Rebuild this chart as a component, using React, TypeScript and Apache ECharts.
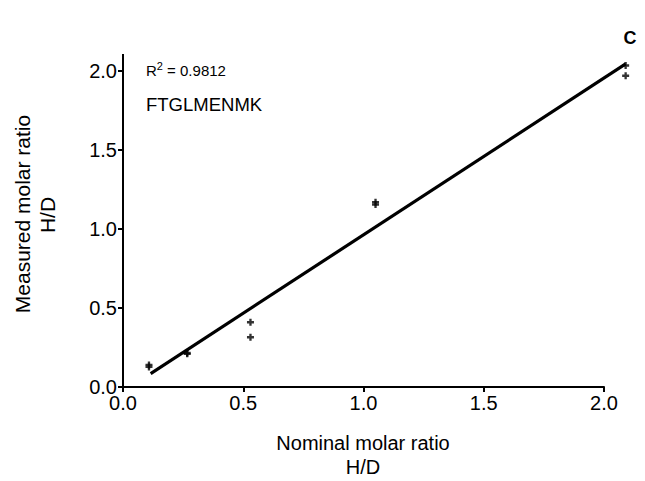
import React, { useEffect, useRef } from "react";
import * as echarts from "echarts";

const pointX = [0.108, 0.108, 0.267, 0.267, 0.53, 0.53, 1.05, 1.05, 2.09, 2.09];
const pointY = [0.127, 0.14, 0.215, 0.21, 0.41, 0.315, 1.155, 1.17, 2.035, 1.97];
const fitX = [0.115, 2.09];
const fitY = [0.085, 2.045];
const xTicks = [0, 0.5, 1.0, 1.5, 2.0];
const yTicks = [0, 0.5, 1.0, 1.5, 2.0];
const xTitle = ["Nominal molar ratio", "H/D"];
const yTitle = ["Measured molar ratio", "H/D"];
const r2Text = "0.9812";
const peptide = "FTGLMENMK";
const panel = "C";

const FONT = "'Liberation Sans', Arial, sans-serif";

export default function App() {
  const ref = useRef<HTMLDivElement>(null);
  useEffect(() => {
    if (!ref.current) return;
    const chart = echarts.init(ref.current, null, { renderer: "svg" });
    const axisCommon = {
      type: "value" as const,
      interval: 0.5,
      axisLine: { show: true, lineStyle: { color: "#000", width: 2 } },
      axisTick: { show: true, inside: false, length: 5, lineStyle: { color: "#000", width: 2 } },
      splitLine: { show: false },
      axisLabel: {
        color: "#000",
        fontSize: 20,
        fontFamily: FONT,
        formatter: (v: number) => v.toFixed(1),
      },
    };
    chart.setOption({
      animation: false,
      backgroundColor: "#fff",
      grid: { left: 123, right: 41, top: 71, bottom: 94, containLabel: false },
      xAxis: {
        ...axisCommon,
        min: xTicks[0],
        max: xTicks[xTicks.length - 1],
        axisLabel: { ...axisCommon.axisLabel, margin: 6 },
      },
      yAxis: {
        ...axisCommon,
        min: yTicks[0],
        max: yTicks[yTicks.length - 1],
        axisLabel: { ...axisCommon.axisLabel, margin: 6 },
      },
      series: [
        {
          type: "custom",
          data: [[fitX[0], fitY[0], fitX[1], fitY[1]]],
          clip: false,
          z: 2,
          renderItem: (params: any, api: any) => {
            const p1 = api.coord([api.value(0), api.value(1)]);
            const p2 = api.coord([api.value(2), api.value(3)]);
            return {
              type: "line",
              shape: { x1: p1[0], y1: p1[1], x2: p2[0], y2: p2[1] },
              style: { stroke: "#000", lineWidth: 3.2 },
            };
          },
        },
        {
          type: "scatter",
          data: pointX.map((x, i) => [x, pointY[i]]),
          symbol: "path://M2,0H4V2H6V4H4V6H2V4H0V2H2Z",
          symbolSize: 7,
          clip: false,
          itemStyle: { color: "#000" },
          z: 3,
        },
      ],
      graphic: [
        {
          type: "line",
          shape: { x1: 123, y1: 54, x2: 123, y2: 72 },
          style: { stroke: "#000", lineWidth: 2 },
        },
        {
          type: "text",
          x: 363,
          y: 443,
          style: {
            text: xTitle[0],
            fontSize: 20,
            fontFamily: FONT,
            fill: "#000",
            align: "center",
            verticalAlign: "middle",
          },
        },
        {
          type: "text",
          x: 363,
          y: 467,
          style: {
            text: xTitle[1],
            fontSize: 20,
            fontFamily: FONT,
            fill: "#000",
            align: "center",
            verticalAlign: "middle",
          },
        },
        {
          type: "text",
          x: 22,
          y: 214,
          rotation: Math.PI / 2,
          style: {
            text: yTitle[0],
            fontSize: 21,
            fontFamily: FONT,
            fill: "#000",
            align: "center",
            verticalAlign: "middle",
          },
        },
        {
          type: "text",
          x: 47,
          y: 215,
          rotation: Math.PI / 2,
          style: {
            text: yTitle[1],
            fontSize: 21,
            fontFamily: FONT,
            fill: "#000",
            align: "center",
            verticalAlign: "middle",
          },
        },
        {
          type: "text",
          x: 146,
          y: 70,
          style: {
            text: "{r|R}{s|2}{r| = " + r2Text + "}",
            fill: "#000",
            verticalAlign: "middle",
            rich: {
              r: { fontSize: 15, fontFamily: FONT, fill: "#000" },
              s: { fontSize: 11, fontFamily: FONT, fill: "#000", verticalAlign: "top", padding: [0, 0, 8, 0] },
            },
          },
        },
        {
          type: "text",
          x: 146,
          y: 104,
          style: {
            text: peptide,
            fontSize: 18.5,
            fontFamily: FONT,
            fill: "#000",
            verticalAlign: "middle",
          },
        },
        {
          type: "text",
          x: 630,
          y: 38,
          style: {
            text: panel,
            fontSize: 18,
            fontWeight: "bold",
            fontFamily: FONT,
            fill: "#000",
            align: "center",
            verticalAlign: "middle",
          },
        },
      ],
    });
    return () => chart.dispose();
  }, []);
  return <div ref={ref} style={{ width: 645, height: 481, position: "absolute", left: 0, top: 0 }} />;
}
